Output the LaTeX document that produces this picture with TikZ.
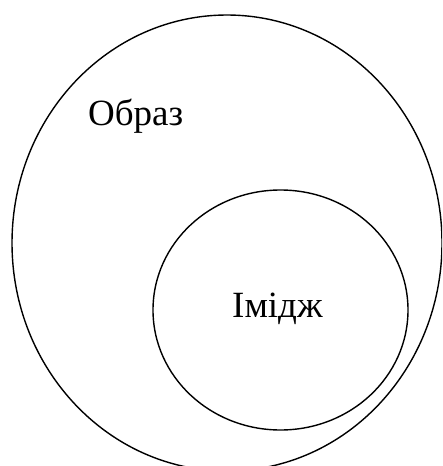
\documentclass[tikz,border=0pt]{standalone}
\usepackage{fontspec}
\setmainfont{Liberation Serif}
\usetikzlibrary{shapes.geometric}
\begin{document}
\begin{tikzpicture}[x=1pt,y=-1pt,
  ring/.style={draw=black,line width=1.4pt,ellipse,inner sep=0pt},
  lbl/.style={inner sep=0pt,anchor=base west,font=\fontsize{37}{44}\selectfont}]
\useasboundingbox (0,0) rectangle (442,466);
\clip (0,0) rectangle (442,466);
\node[ring,minimum width=430pt,minimum height=456pt] (outer) at (227,243) {};
\node[ring,minimum width=255pt,minimum height=240pt] (inner) at (280.5,310) {};
\node[lbl] (obraz) at (88,125) {Образ};
\node[lbl] (imidzh) at (232,317) {Імідж};
\end{tikzpicture}
\end{document}
